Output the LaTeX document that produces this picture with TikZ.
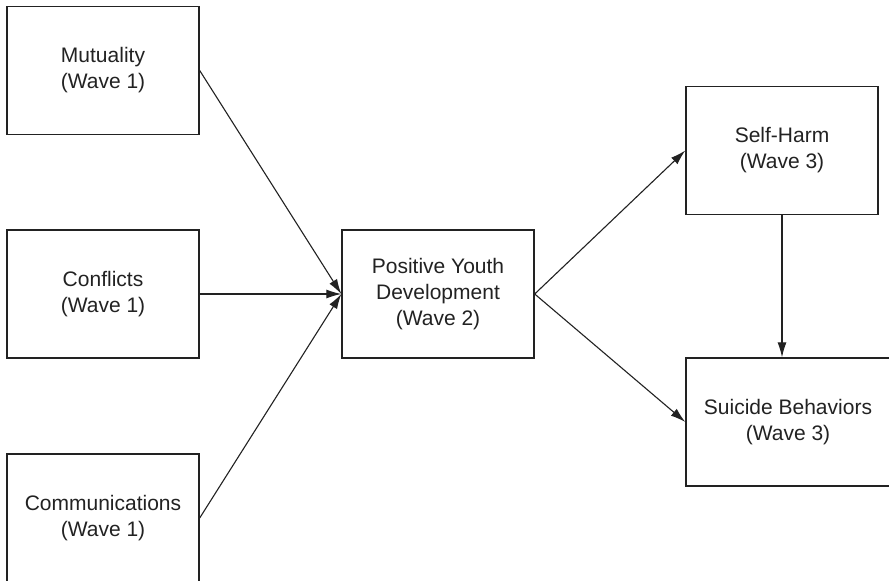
\documentclass[tikz,border=0pt]{standalone}
\usepackage{fontspec}
\setmainfont{Liberation Sans}
\usetikzlibrary{arrows.meta}
\definecolor{ink}{HTML}{222222}
\begin{document}
\begin{tikzpicture}[x=1pt,y=-1pt,
  box/.style={draw=ink,line width=1.4pt,inner sep=0pt,align=center,
    minimum width=192pt,minimum height=128pt,text=ink,
    font=\fontsize{21}{26}\selectfont},
  arr/.style={draw=ink,line width=1.1pt,-{Latex[length=15pt,width=9pt]}}]
\clip (0,0) rectangle (889,581);
\fill[white] (0,0) rectangle (889,581);
\node[box] (mut) at (103,70.5) {Mutuality\\(Wave 1)};
\node[box] (con) at (103,294) {Conflicts\\(Wave 1)};
\node[box] (com) at (103,518) {Communications\\(Wave 1)};
\node[box] (pyd) at (438,294) {Positive Youth\\Development\\(Wave 2)};
\node[box] (sh) at (782,150.5) {Self-Harm\\(Wave 3)};
\node[box,minimum width=204pt] (sb) at (788,422) {Suicide Behaviors\\(Wave 3)};
\draw[arr] (mut.east) -- (pyd.west);
\draw[arr] (con.east) -- (pyd.west);
\draw[arr] (com.east) -- (pyd.west);
\draw[arr] (pyd.east) -- (sh.west);
\draw[arr] (pyd.east) -- (sb.west);
\draw[arr] (sh.south) -- (sh.south |- sb.north);
\end{tikzpicture}
\end{document}
